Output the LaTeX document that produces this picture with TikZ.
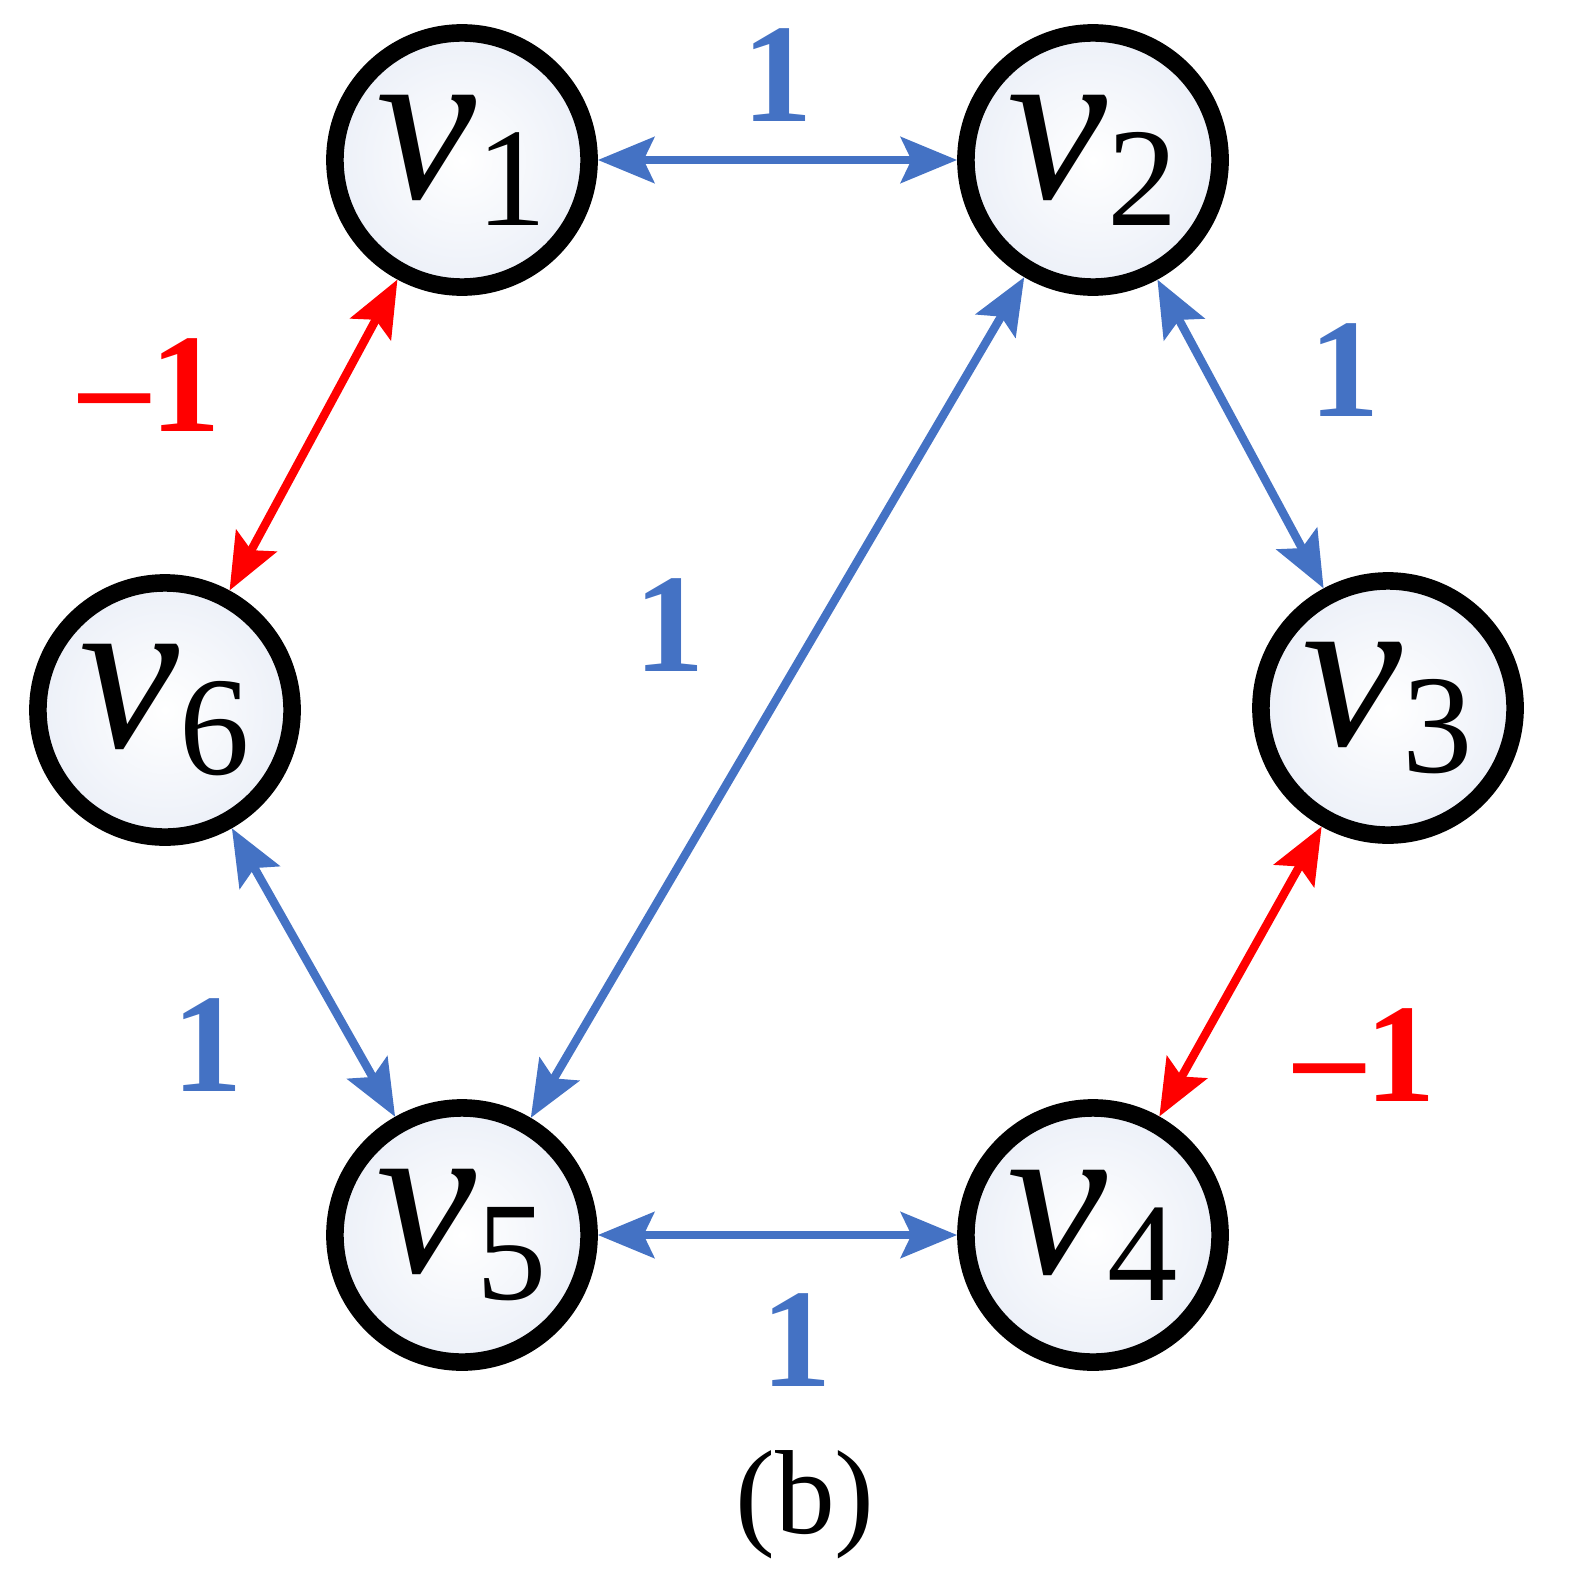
\documentclass[tikz,border=0pt]{standalone}
\usepackage{fontspec}
\setmainfont{Liberation Serif}
\usetikzlibrary{arrows.meta}
\definecolor{eb}{RGB}{68,114,196}
\definecolor{er}{RGB}{255,0,0}
\definecolor{nf}{RGB}{236,240,248}
\newcommand{\vlab}[1]{\textit{v}\raisebox{-0.12em}{\fontsize{40}{42}\selectfont #1}}
\begin{document}
\begin{tikzpicture}[x=0.01cm,y=-0.01cm,
  vn/.style={circle,draw=black,line width=5pt,minimum size=2.54cm,inner sep=0pt,inner color=white,outer color=nf,font=\fontsize{64}{66}\selectfont},
  ed/.style={line width=2.4pt,{Stealth[length=16pt,width=13pt,inset=3pt]}-{Stealth[length=16pt,width=13pt,inset=3pt]}},
  bl/.style={ed,draw=eb},
  rd/.style={ed,draw=er},
  lb/.style={font=\fontsize{40}{44}\selectfont\bfseries,text=eb},
  lr/.style={font=\fontsize{40}{44}\selectfont\bfseries,text=er}]
\useasboundingbox (0,0) rectangle (1581,1594);
\node[vn] (v1) at (462,160) {\vlab{1}};
\node[vn] (v2) at (1093,160) {\vlab{2}};
\node[vn] (v3) at (1388,708) {\vlab{3}};
\node[vn] (v4) at (1093,1235) {\vlab{4}};
\node[vn] (v5) at (462,1235) {\vlab{5}};
\node[vn] (v6) at (165,710) {\vlab{6}};
\draw[bl] (v1) -- (v2);
\draw[bl] (v2) -- (v3);
\draw[rd] (v3) -- (v4);
\draw[bl] (v4) -- (v5);
\draw[bl] (v5) -- (v6);
\draw[rd] (v6) -- (v1);
\draw[bl] (v2) -- (v5);
\node[lb] (l12) at (778,75) {1};
\node[lb] (l23) at (1345,370) {1};
\node[lr] (l61) at (150,385) {–1};
\node[lb] (l25) at (670,625) {1};
\node[lb] (l56) at (208,1045) {1};
\node[lr] (l34) at (1365,1055) {–1};
\node[lb] (l45) at (797,1340) {1};
\node[font=\fontsize{34}{36}\selectfont] (cap) at (805,1505) {(b)};
\end{tikzpicture}
\end{document}
